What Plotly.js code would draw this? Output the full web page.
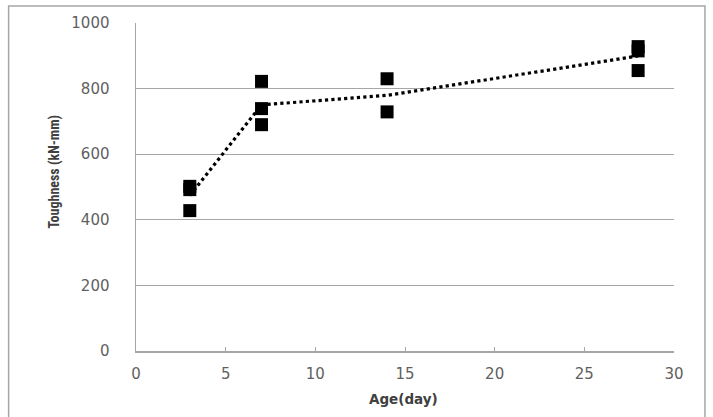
<!DOCTYPE html>
<html>
<head>
<meta charset="utf-8">
<script src="https://cdn.plot.ly/plotly-3.0.1.min.js"></script>
<style>
html,body{margin:0;padding:0;background:#fff;}
#chart{width:713px;height:417px;}
</style>
</head>
<body>
<div id="chart"></div>
<script>
// Data
const ageDays = [3, 3, 3, 7, 7, 7, 14, 14, 28, 28, 28];
const toughness = [502, 492, 428, 822, 739, 690, 830, 729, 928, 915, 855];
const xTickVals = [0, 5, 10, 15, 20, 25, 30];
const yTickVals = [0, 200, 400, 600, 800, 1000];
const xTitle = 'Age(day)';
const yTitle = 'Toughness (kN-mm)';

// mean toughness per age for the dotted trend line
const groups = {};
ageDays.forEach((a, i) => { (groups[a] = groups[a] || []).push(toughness[i]); });
const meanAges = Object.keys(groups).map(Number).sort((a, b) => a - b);
const meanVals = meanAges.map(a => groups[a].reduce((s, v) => s + v, 0) / groups[a].length);

const traces = [
  {
    x: meanAges, y: meanVals, type: 'scatter', mode: 'lines',
    line: {color: '#000', width: 3.2, dash: 'dot'}, hoverinfo: 'skip'
  },
  {
    x: ageDays, y: toughness, type: 'scatter', mode: 'markers',
    marker: {symbol: 'square', size: 13, color: '#000', line: {width: 0}}
  }
];

const tickFont = {family: 'DejaVu Sans, sans-serif', size: 15, color: '#5f5f5f'};
const yTitleFont = {family: 'Liberation Sans Narrow, Roboto Condensed, DejaVu Sans Condensed, sans-serif', size: 14, color: '#404040'};
const xTitleFont = {family: 'DejaVu Sans, sans-serif', size: 13.5, color: '#404040'};
const L = 135.5, PW = 538.5, B = 351, PH = 328;
const layout = {
  width: 713, height: 417,
  margin: {l: L, r: 713 - L - PW, t: 23, b: 417 - B},
  paper_bgcolor: '#fff', plot_bgcolor: '#fff',
  showlegend: false,
  xaxis: {
    range: [0, 30], tickvals: xTickVals, ticktext: xTickVals.map(String),
    showgrid: false, zeroline: false,
    showline: true, linecolor: '#a6a6a6', linewidth: 1.5,
    ticks: 'inside', ticklen: 4, tickcolor: '#a6a6a6', tickwidth: 1,
    tickfont: tickFont, ticklabelstandoff: 8
  },
  yaxis: {
    range: [0, 1000], tickvals: yTickVals, ticktext: yTickVals.map(String),
    showgrid: true, gridcolor: '#a6a6a6', gridwidth: 1.3,
    zeroline: false, showline: true, linecolor: '#a6a6a6', linewidth: 1.5,
    ticks: '', tickfont: tickFont, ticklabelstandoff: 22
  },
  annotations: [
    {text: '<b>' + xTitle + '</b>', xref: 'paper', yref: 'paper',
     x: (403 - L) / PW, y: (B - 399) / PH, showarrow: false,
     xanchor: 'center', yanchor: 'middle', font: xTitleFont},
    {text: '<b>' + yTitle + '</b>', xref: 'paper', yref: 'paper',
     x: (53 - L) / PW, y: (B - 172) / PH, showarrow: false, textangle: -90,
     xanchor: 'center', yanchor: 'middle', font: yTitleFont}
  ],
  shapes: [
    {type: 'rect', xref: 'paper', yref: 'paper',
     x0: (8 - L) / PW, x1: (705 - L) / PW,
     y0: (B - 425) / PH, y1: (B - 6) / PH,
     line: {color: '#a6a6a6', width: 1.5}, fillcolor: 'rgba(0,0,0,0)', layer: 'below'}
  ]
};

Plotly.newPlot('chart', traces, layout, {displayModeBar: false, staticPlot: true});
</script>
</body>
</html>
